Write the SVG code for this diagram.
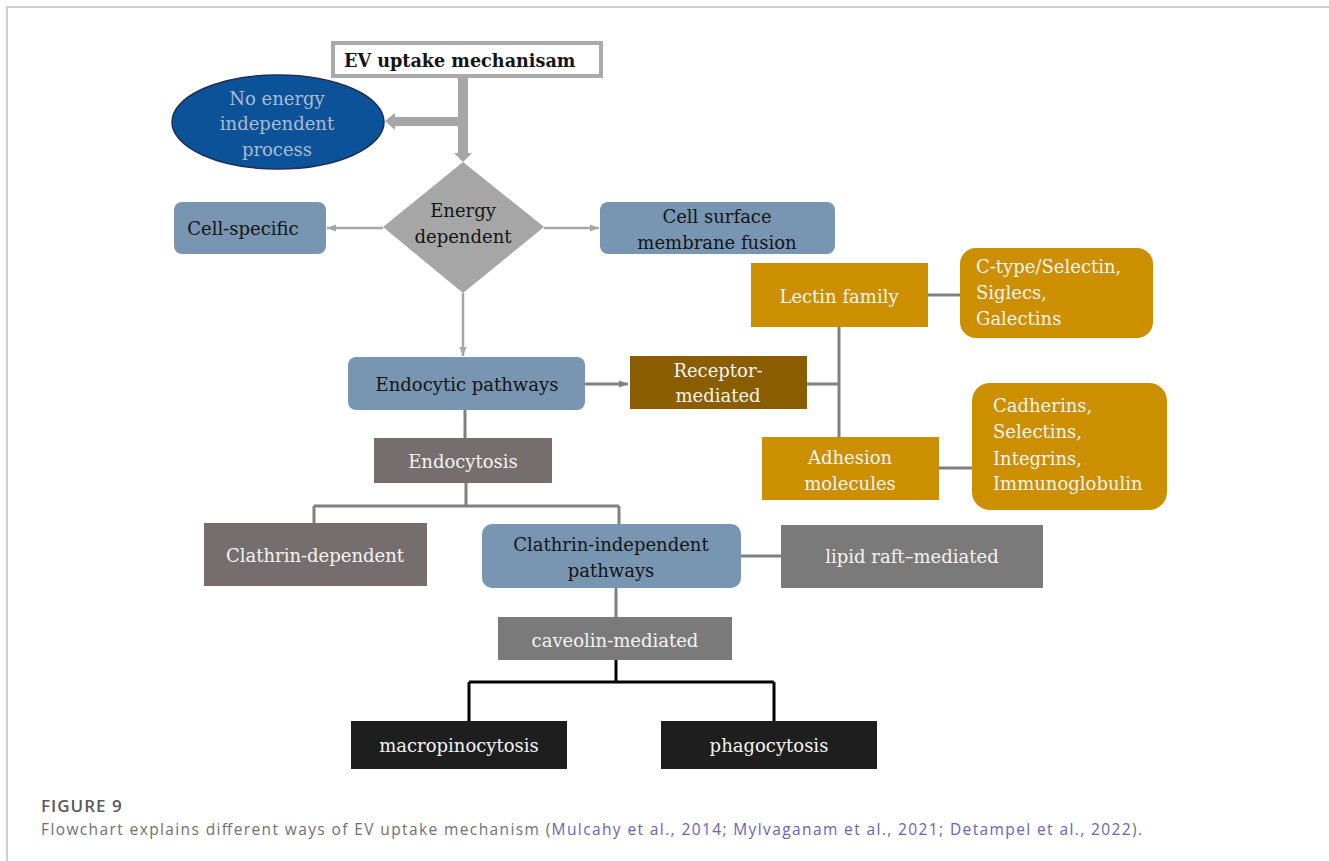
<svg xmlns="http://www.w3.org/2000/svg" width="1329" height="861" viewBox="0 0 1329 861">
<style>
.t{font-family:"DejaVu Serif","Liberation Serif",serif;font-size:18px;text-anchor:middle}
.dk{fill:#141414}
.wh{fill:#f4f4f4}
.lt{fill:#a9bcd4}
.blue{fill:#7896b2}
.org{fill:#cc8f00}
.gry{fill:#766e6e}
.g2{fill:#7a7a7a}
.blk{fill:#1e1e1e}
.c1{stroke:#a6a6a6;stroke-width:2.5;fill:none}
.c2{stroke:#808080;stroke-width:3;fill:none}
.c3{stroke:#000;stroke-width:3;fill:none}
.cap{font-family:"Open Sans","Noto Sans",sans-serif}
</style>
<defs>
<marker id="ah1" markerUnits="userSpaceOnUse" markerWidth="10" markerHeight="10" viewBox="0 0 10 10" refX="9" refY="5" orient="auto"><path d="M0,1.5 L9,5 L0,8.5 Z" fill="#a6a6a6"/></marker>
<marker id="ah2" markerUnits="userSpaceOnUse" markerWidth="10" markerHeight="10" viewBox="0 0 10 10" refX="9" refY="5" orient="auto"><path d="M0,1.5 L9,5 L0,8.5 Z" fill="#808080"/></marker>
</defs>
<rect x="0" y="0" width="1329" height="861" fill="#fff"/>
<path d="M7,861 L7,7 L1329,7" stroke="#cfcfcf" stroke-width="2" fill="none"/>

<g id="connectors">
<path d="M458,77 L468,77 L468,153 L472,153 L463,162 L454,153 L458,153 L458,126 L395,126 L395,130 L385,121 L395,113 L395,117 L458,117 Z" fill="#a6a6a6"/>
<line class="c1" x1="383" y1="228" x2="327" y2="228" marker-end="url(#ah1)"/>
<line class="c1" x1="544" y1="228" x2="599" y2="228" marker-end="url(#ah1)"/>
<line class="c1" x1="463" y1="293" x2="463" y2="356" marker-end="url(#ah1)"/>
<line class="c2" x1="585" y1="384" x2="628" y2="384" marker-end="url(#ah2)"/>
<path class="c2" d="M807,384 L839,384 M839,327 L839,437"/>
<line class="c2" x1="928" y1="295" x2="960" y2="295"/>
<line class="c2" x1="939" y1="468" x2="972" y2="468"/>
<line class="c2" x1="465" y1="410" x2="465" y2="438"/>
<path class="c2" d="M466,483 L466,506 M314,506 L619,506 M314,506 L314,523 M619,506 L619,524"/>
<line class="c2" x1="741" y1="556" x2="781" y2="556"/>
<line class="c2" x1="616" y1="588" x2="616" y2="617"/>
<path class="c3" d="M616,660 L616,682 M469,682 L774,682 M469,682 L469,721 M774,682 L774,721"/>
</g>

<g id="ev-uptake">
<rect x="333" y="43" width="268" height="33" fill="#fff" stroke="#aaaaaa" stroke-width="4"/>
<text class="t dk" x="344" y="67" style="text-anchor:start;font-weight:bold;font-size:17.6px">EV uptake mechanisam</text>
</g>

<g id="no-energy">
<ellipse cx="278" cy="122" rx="106" ry="47" fill="#0c5299" stroke="#1d2f55" stroke-width="1.5"/>
<text class="t lt" x="277" y="105">No energy</text>
<text class="t lt" x="277" y="130">independent</text>
<text class="t lt" x="277" y="156">process</text>
</g>

<g id="energy-dependent">
<polygon points="463,162 544,227 463,293 383,227" fill="#a6a6a6"/>
<text class="t dk" x="463" y="217">Energy</text>
<text class="t dk" x="463" y="243">dependent</text>
</g>

<g id="cell-specific">
<rect class="blue" x="174" y="202" width="152" height="52" rx="8"/>
<text class="t dk" x="243" y="235">Cell-specific</text>
</g>

<g id="cell-surface">
<rect class="blue" x="600" y="202" width="235" height="52" rx="8"/>
<text class="t dk" x="717" y="223">Cell surface</text>
<text class="t dk" x="717" y="249">membrane fusion</text>
</g>

<g id="endocytic">
<rect class="blue" x="348" y="357" width="237" height="53" rx="8"/>
<text class="t dk" x="467" y="391">Endocytic pathways</text>
</g>

<g id="receptor">
<rect x="630" y="356" width="177" height="53" fill="#8a5e00"/>
<text class="t wh" x="718" y="377">Receptor-</text>
<text class="t wh" x="718" y="402">mediated</text>
</g>

<g id="lectin">
<rect class="org" x="751" y="263" width="177" height="64"/>
<text class="t wh" x="839" y="303">Lectin family</text>
</g>

<g id="ctype">
<rect class="org" x="960" y="248" width="193" height="90" rx="16"/>
<text class="t wh" x="976" y="273" style="text-anchor:start">C-type/Selectin,</text>
<text class="t wh" x="976" y="299" style="text-anchor:start">Siglecs,</text>
<text class="t wh" x="976" y="325" style="text-anchor:start">Galectins</text>
</g>

<g id="adhesion">
<rect class="org" x="762" y="437" width="177" height="63"/>
<text class="t wh" x="850" y="464">Adhesion</text>
<text class="t wh" x="850" y="490">molecules</text>
</g>

<g id="cadherins">
<rect class="org" x="972" y="383" width="195" height="127" rx="18"/>
<text class="t wh" x="993" y="412" style="text-anchor:start">Cadherins,</text>
<text class="t wh" x="993" y="438" style="text-anchor:start">Selectins,</text>
<text class="t wh" x="993" y="465" style="text-anchor:start">Integrins,</text>
<text class="t wh" x="993" y="490" style="text-anchor:start">Immunoglobulin</text>
</g>

<g id="endocytosis">
<rect class="gry" x="374" y="438" width="178" height="45"/>
<text class="t wh" x="463" y="468">Endocytosis</text>
</g>

<g id="clathrin-dependent">
<rect class="gry" x="204" y="523" width="223" height="63"/>
<text class="t wh" x="315" y="562">Clathrin-dependent</text>
</g>

<g id="clathrin-independent">
<rect class="blue" x="482" y="524" width="259" height="64" rx="10"/>
<text class="t dk" x="611" y="551">Clathrin-independent</text>
<text class="t dk" x="611" y="577">pathways</text>
</g>

<g id="lipid-raft">
<rect class="g2" x="781" y="525" width="262" height="63"/>
<text class="t wh" x="912" y="563">lipid raft–mediated</text>
</g>

<g id="caveolin">
<rect class="g2" x="498" y="617" width="234" height="43"/>
<text class="t wh" x="615" y="647">caveolin-mediated</text>
</g>

<g id="macropinocytosis">
<rect class="blk" x="351" y="721" width="216" height="48"/>
<text class="t wh" x="459" y="752">macropinocytosis</text>
</g>

<g id="phagocytosis">
<rect class="blk" x="661" y="721" width="216" height="48"/>
<text class="t wh" x="769" y="752">phagocytosis</text>
</g>

<g id="caption">
<text class="cap" x="41" y="812" font-size="17" font-weight="600" fill="#5a5a5a" letter-spacing="1">FIGURE 9</text>
<text class="cap" x="41" y="835" font-size="15.5" fill="#707070" textLength="1101" lengthAdjust="spacing">Flowchart explains different ways of EV uptake mechanism (<tspan fill="#6a62b4">Mulcahy et al., 2014; Mylvaganam et al., 2021; Detampel et al., 2022</tspan>).</text>
</g>
</svg>
